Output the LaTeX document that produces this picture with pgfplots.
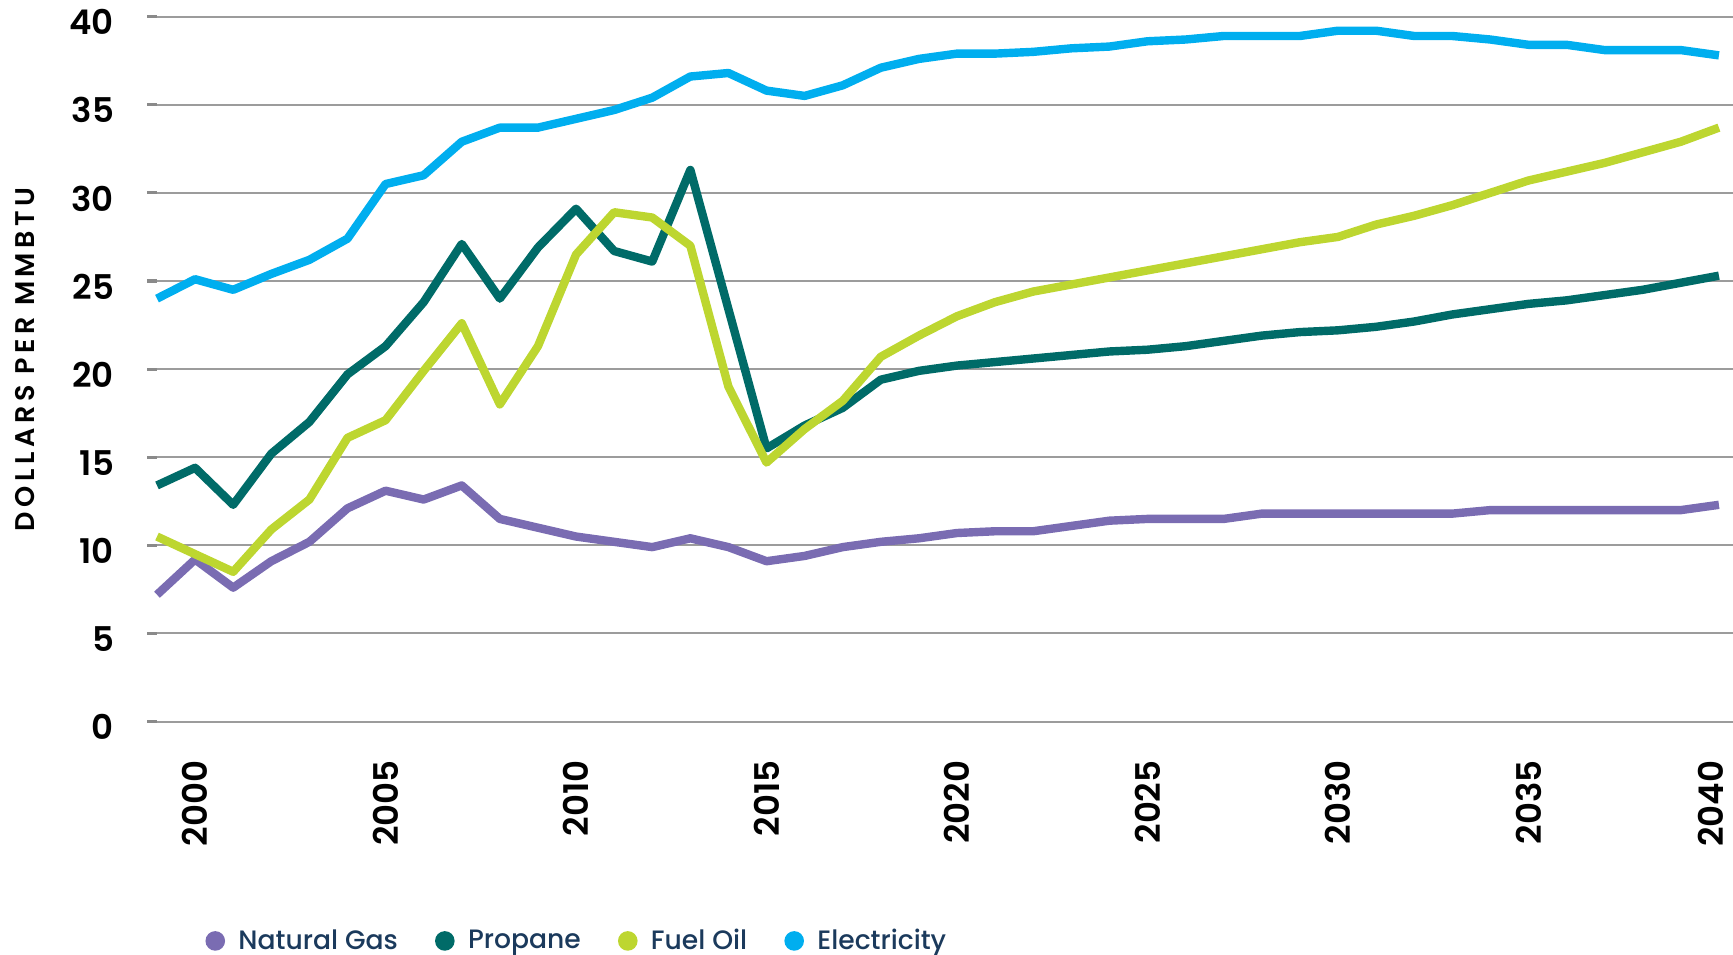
\documentclass[border=0pt]{standalone}
\usepackage{fontspec}
\setmainfont{Poppins}[BoldFont={Poppins SemiBold}]
\newfontfamily\legendfont{Poppins Medium}
\usepackage{pgfplots}
\pgfplotsset{compat=1.18}
\usepackage{pgfplotstable}
\definecolor{ngas}{HTML}{7A6CB2}
\definecolor{prop}{HTML}{006B68}
\definecolor{fuel}{HTML}{BDD630}
\definecolor{elec}{HTML}{00AEEF}
\definecolor{navy}{HTML}{1B3A5C}
\definecolor{gridc}{HTML}{9C9C9C}
\definecolor{tickc}{HTML}{8A8A8A}
\pgfplotstableread{
year ngas prop fuel elec
1999 7.2 13.4 10.5 24.0
2000 9.2 14.4 9.5 25.1
2001 7.6 12.3 8.5 24.5
2002 9.1 15.2 10.9 25.4
2003 10.2 17.0 12.6 26.2
2004 12.1 19.7 16.1 27.4
2005 13.1 21.3 17.1 30.5
2006 12.6 23.8 19.9 31.0
2007 13.4 27.1 22.6 32.9
2008 11.5 24.0 18.0 33.7
2009 11.0 26.9 21.3 33.7
2010 10.5 29.1 26.5 34.2
2011 10.2 26.7 28.9 34.7
2012 9.9 26.1 28.6 35.4
2013 10.4 31.3 27.0 36.6
2014 9.9 23.4 19.0 36.8
2015 9.1 15.5 14.7 35.8
2016 9.4 16.8 16.6 35.5
2017 9.9 17.8 18.2 36.1
2018 10.2 19.4 20.7 37.1
2019 10.4 19.9 21.9 37.6
2020 10.7 20.2 23.0 37.9
2021 10.8 20.4 23.8 37.9
2022 10.8 20.6 24.4 38.0
2023 11.1 20.8 24.8 38.2
2024 11.4 21.0 25.2 38.3
2025 11.5 21.1 25.6 38.6
2026 11.5 21.3 26.0 38.7
2027 11.5 21.6 26.4 38.9
2028 11.8 21.9 26.8 38.9
2029 11.8 22.1 27.2 38.9
2030 11.8 22.2 27.5 39.2
2031 11.8 22.4 28.2 39.2
2032 11.8 22.7 28.7 38.9
2033 11.8 23.1 29.3 38.9
2034 12.0 23.4 30.0 38.7
2035 12.0 23.7 30.7 38.4
2036 12.0 23.9 31.2 38.4
2037 12.0 24.2 31.7 38.1
2038 12.0 24.5 32.3 38.1
2039 12.0 24.9 32.9 38.1
2040 12.3 25.3 33.7 37.8
}\data
\newcommand\tickfont{\fontsize{17}{20}\selectfont\bfseries}
\begin{document}
\begin{tikzpicture}
\useasboundingbox (0,0) rectangle (866.5pt,477pt);
\begin{axis}[
  at={(78.5pt,116.2pt)}, anchor=south west,
  width=788pt, height=352.5pt, scale only axis,
  xmin=1999, xmax=2040.37, ymin=0, ymax=40,
  clip=false,
  axis line style={draw=none},
  xtick={2000,2005,...,2035},
  extra x ticks={2040},
  extra x tick style={xticklabel style={yshift=4pt}},
  xtick style={draw=none},
  ytick={0,5,...,40},
  ymajorgrids,
  grid style={draw=gridc, line width=1pt},
  ytick style={draw=tickc, line width=1.6pt},
  tick align=outside,
  major tick length=5pt,
  /pgf/number format/assume math mode=true,
  /pgf/number format/1000 sep={},
  xticklabel shift=13.3pt,
  yticklabel shift=13pt,
  xticklabel style={rotate=90, anchor=east, font=\tickfont, xshift=-1pt, inner sep=0pt},
  yticklabel style={anchor=east, font=\tickfont, yshift=-2.8pt},
  ylabel={\addfontfeature{LetterSpace=17}DOLLARS PER MMBTU},
  ylabel style={at={(axis description cs:-0.0839,0.514)}, rotate=0, anchor=center, font=\fontsize{13.5}{15}\selectfont\bfseries},
  legend columns=4,
  legend style={draw=none, fill=none, at={(axis description cs:0.0305,-0.3111)}, anchor=west, inner sep=0pt,
    font=\legendfont\fontsize{13.3}{16}\selectfont, text=navy,
    /tikz/every even column/.append style={column sep=16.6pt}},
  legend image code/.code={\fill[#1, draw=none] (4.9pt,0pt) circle (4.9pt); \path[draw=none, fill=none] (0pt,-0.1pt) rectangle (14.5pt,0.1pt);},
  every axis plot/.append style={line width=4.2pt, line join=round},
]
\addplot[ngas] table[x=year, y=ngas] {\data};
\addlegendentry{Natural Gas}
\addplot[prop] table[x=year, y=prop] {\data};
\addlegendentry{Propane}
\addplot[fuel] table[x=year, y=fuel] {\data};
\addlegendentry{Fuel Oil}
\addplot[elec] table[x=year, y=elec] {\data};
\addlegendentry{Electricity}
\end{axis}
\end{tikzpicture}
\end{document}
